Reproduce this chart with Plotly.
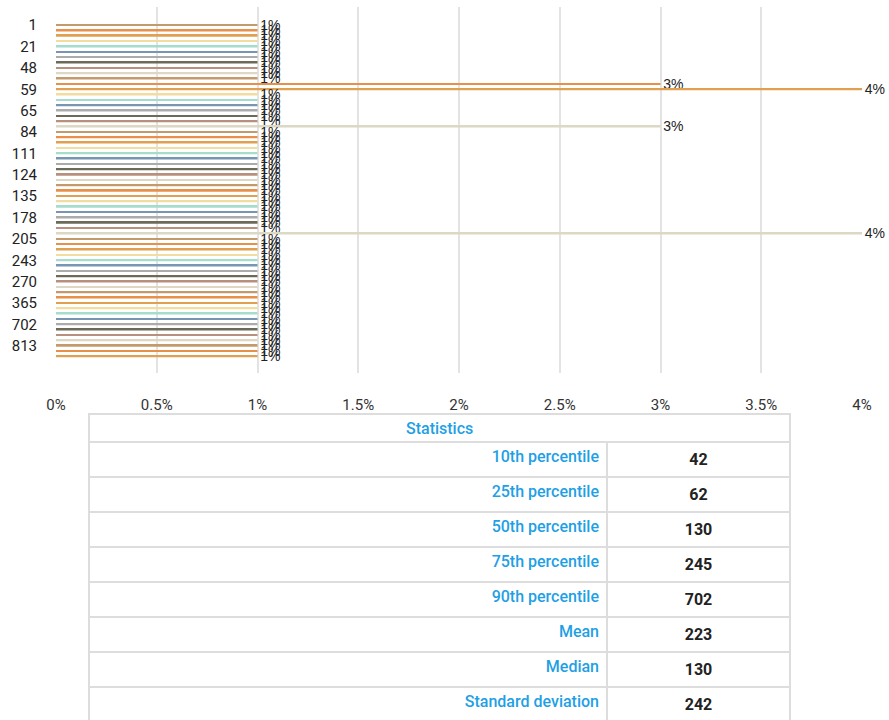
import plotly.graph_objects as go

# ---- data ----
categories = [
    "1", "7", "14", "17",
    "21", "28", "35", "42",
    "48", "52", "55", "57",
    "59", "60", "62", "63",
    "65", "70", "75", "80",
    "84", "90", "97", "104",
    "111", "115", "118", "121",
    "124", "127", "130", "132",
    "135", "145", "155", "165",
    "178", "185", "193", "200",
    "205", "215", "225", "235",
    "243", "245", "255", "262",
    "270", "290", "320", "345",
    "365", "420", "500", "600",
    "702", "730", "760", "790",
    "813", "850", "900",
]
pct_values = [
    1, 1, 1, 1,
    1, 1, 1, 1,
    1, 1, 1, 3,
    4, 1, 1, 1,
    1, 1, 1, 3,
    1, 1, 1, 1,
    1, 1, 1, 1,
    1, 1, 1, 1,
    1, 1, 1, 1,
    1, 1, 1, 4,
    1, 1, 1, 1,
    1, 1, 1, 1,
    1, 1, 1, 1,
    1, 1, 1, 1,
    1, 1, 1, 1,
    1, 1, 1,
]
tick_categories = categories[::4]

table_title = "Statistics"
stat_labels = ["10th percentile", "25th percentile", "50th percentile", "75th percentile",
               "90th percentile", "Mean", "Median", "Standard deviation"]
stat_values = [42, 62, 130, 245, 702, 223, 130, 242]

# ---- styles ----
palette = ["#c49a6c", "#e8904a", "#e0a050", "#f2dca0", "#a6dccc",
           "#7896b4", "#ababab", "#6b6b58", "#b8907e", "#dcd8c4"]
bar_colors = [palette[i % len(palette)] for i in range(len(categories))]
blue = "#1f9fe5"
border = "#dddddd"

W, H = 889, 720
ML, MR, MT, MB = 56, 27, 7, 0
ph = H - MT - MB

TITLE_TOP, BODY_TOP = 414, 442


def py(y):  # pixel y (from top) -> paper fraction
    return (H - MB - y) / ph


def px(x):
    return (x - ML) / (W - ML - MR)


fig = go.Figure()

fig.add_trace(go.Bar(
    x=pct_values,
    y=categories,
    orientation="h",
    width=0.33,
    marker=dict(color=bar_colors, line=dict(width=0)),
    text=[f"\u2009{v}%" for v in pct_values],
    textposition="outside",
    constraintext="none",
    cliponaxis=False,
    textfont=dict(family="Liberation Sans", size=14, color="#222222"),
    hoverinfo="skip",
    showlegend=False,
))

# statistics body
fig.add_trace(go.Table(
    domain=dict(x=[px(89), px(790)], y=[0, py(BODY_TOP)]),
    columnwidth=[518, 183],
    header=dict(
        values=[stat_labels[0], f"<b>{stat_values[0]}</b>"],
        height=34,
        align=["right", "center"],
        fill_color="white",
        line=dict(color=border, width=2),
        font=dict(family="Roboto", size=16, color=[blue, "#222222"], weight=500),
    ),
    cells=dict(
        values=[stat_labels[1:], [f"<b>{v}</b>" for v in stat_values[1:]]],
        height=34,
        align=["right", "center"],
        fill_color="white",
        line=dict(color=border, width=2),
        font=dict(family="Roboto", size=16, color=[blue, "#222222"], weight=500),
    ),
))

# merged title row of the table
fig.add_shape(
    type="rect", xref="paper", yref="paper",
    x0=px(89), x1=px(790), y0=py(BODY_TOP), y1=py(TITLE_TOP),
    line=dict(color=border, width=2), fillcolor="white", layer="below",
)
fig.add_annotation(
    xref="paper", yref="paper",
    x=(px(89) + px(790)) / 2, y=py((TITLE_TOP + BODY_TOP) / 2 + 1),
    text=table_title, showarrow=False,
    xanchor="center", yanchor="middle",
    font=dict(family="Roboto", size=16, color=blue, weight=500),
)

fig.update_layout(
    width=W, height=H,
    margin=dict(l=ML, r=MR, t=MT, b=MB, autoexpand=False),
    paper_bgcolor="white",
    plot_bgcolor="white",
    font=dict(family="Roboto", size=15, color="#222222"),
    bargap=0.6,
    xaxis=dict(
        range=[0, 4],
        dtick=0.5,
        tick0=0,
        ticksuffix="%",
        showgrid=True,
        gridcolor="#e3e3e3",
        gridwidth=1.5,
        zeroline=False,
        showline=False,
        ticks="outside",
        ticklen=18,
        tickcolor="rgba(0,0,0,0)",
        tickfont=dict(family="Roboto", size=15, color="#333333"),
        domain=[0, 1],
        fixedrange=True,
    ),
    yaxis=dict(
        type="category",
        categoryorder="array",
        categoryarray=categories,
        range=[65.1, -3.4],
        tickmode="array",
        tickvals=tick_categories,
        ticktext=tick_categories,
        showgrid=False,
        zeroline=False,
        showline=False,
        ticks="outside",
        ticklen=15,
        tickcolor="rgba(0,0,0,0)",
        tickfont=dict(family="Roboto", size=15, color="#222222"),
        domain=[py(373), 1],
        automargin=False,
        fixedrange=True,
    ),
)

fig.write_html(
    "out.html",
    config={"displayModeBar": False},
    post_script="document.body.style.margin='0';document.body.style.padding='0';",
)
